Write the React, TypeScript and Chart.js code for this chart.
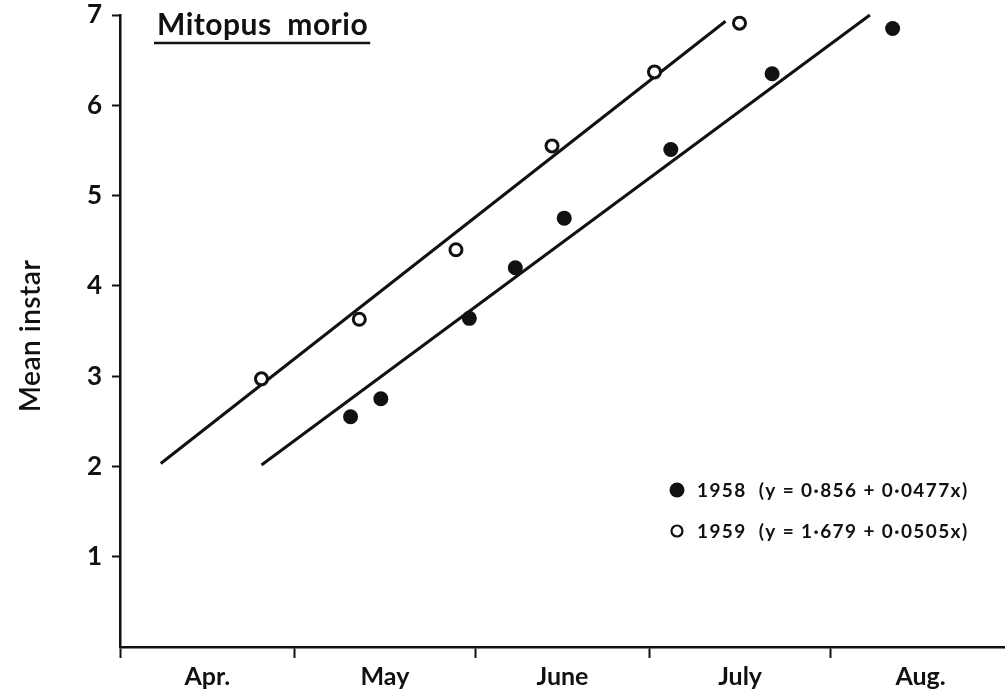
import React, { useEffect, useRef } from "react";
import { Chart, registerables } from "chart.js";

Chart.register(...registerables);

// Days are counted from 1 April.
const monthNames = ["Apr.", "May", "June", "July", "Aug."];
const monthStarts = [0, 30, 61, 91, 122, 153];
const yTicks = [0, 1, 2, 3, 4, 5, 6, 7];

// Mean instar of Mitopus morio, 1958 (filled) and 1959 (open)
const days1958 = [39.6, 44.8, 60.0, 67.9, 76.3, 94.6, 112.0, 132.7];
const instar1958 = [2.55, 2.75, 3.64, 4.2, 4.75, 5.51, 6.35, 6.85];
const days1959 = [24.3, 41.1, 57.7, 74.2, 91.8, 106.4];
const instar1959 = [2.97, 3.63, 4.4, 5.55, 6.37, 6.91];

// Fitted regressions y = a + b·x and the span over which each is drawn
const fit1958 = { a: 0.856, b: 0.0477, from: 24.3, to: 128.8 };
const fit1959 = { a: 1.679, b: 0.0505, from: 7, to: 104 };

const legendLines = ["1958  (y = 0·856 + 0·0477x)", "1959  (y = 1·679 + 0·0505x)"];

const INK = "#111";
const FONT = "Lato, 'DejaVu Sans', sans-serif";

const monthMids = monthNames.map((_, i) => (monthStarts[i] + monthStarts[i + 1]) / 2);

const fitLine = (f: { a: number; b: number; from: number; to: number }) => [
  { x: f.from, y: f.a + f.b * f.from },
  { x: f.to, y: f.a + f.b * f.to },
];

const annotations = {
  id: "annotations",
  afterDraw(chart: any) {
    const ctx = chart.ctx as any;
    ctx.save();
    ctx.fillStyle = INK;
    ctx.strokeStyle = INK;

    // species name, underlined
    ctx.font = `bold 30px ${FONT}`;
    ctx.letterSpacing = "0.5px";
    ctx.textBaseline = "alphabetic";
    ctx.textAlign = "left";
    const title = "Mitopus  morio";
    ctx.fillText(title, 157, 35);
    const w = ctx.measureText(title).width;
    ctx.lineWidth = 2.5;
    ctx.beginPath();
    ctx.moveTo(154, 43);
    ctx.lineTo(157 + w + 2, 43);
    ctx.stroke();

    // y axis title
    ctx.save();
    ctx.translate(31, 336);
    ctx.rotate(-Math.PI / 2);
    ctx.textAlign = "center";
    ctx.textBaseline = "middle";
    ctx.font = `600 28px ${FONT}`;
    ctx.letterSpacing = "0.5px";
    ctx.fillText("Mean instar", 0, 0);
    ctx.restore();

    // key
    ctx.font = `bold 19px ${FONT}`;
    ctx.letterSpacing = "1.4px";
    ctx.textAlign = "left";
    ctx.textBaseline = "middle";
    ctx.beginPath();
    ctx.arc(677, 490, 7.5, 0, Math.PI * 2);
    ctx.fill();
    ctx.fillText(legendLines[0], 697, 491);
    ctx.lineWidth = 2.2;
    ctx.beginPath();
    ctx.arc(677, 531, 5.5, 0, Math.PI * 2);
    ctx.stroke();
    ctx.fillText(legendLines[1], 697, 532);
    ctx.restore();
  },
};

export default function App() {
  const ref = useRef<HTMLCanvasElement | null>(null);

  useEffect(() => {
    if (!ref.current) return;
    const chart = new Chart(ref.current, {
      type: "scatter",
      data: {
        datasets: [
          {
            label: "1958",
            data: days1958.map((d, i) => ({ x: d, y: instar1958[i] })),
            pointRadius: 7.5,
            pointBackgroundColor: INK,
            pointBorderColor: INK,
            pointBorderWidth: 0,
            clip: false as any,
            order: 0,
          },
          {
            label: "1959",
            data: days1959.map((d, i) => ({ x: d, y: instar1959[i] })),
            pointRadius: 6,
            pointBackgroundColor: "#fff",
            pointBorderColor: INK,
            pointBorderWidth: 3,
            clip: false as any,
            order: 0,
          },
          {
            label: "fit 1958",
            data: fitLine(fit1958),
            showLine: true,
            borderColor: INK,
            borderWidth: 3,
            pointRadius: 0,
            clip: false as any,
            order: 1,
          },
          {
            label: "fit 1959",
            data: fitLine(fit1959),
            showLine: true,
            borderColor: INK,
            borderWidth: 3,
            pointRadius: 0,
            clip: false as any,
            order: 1,
          },
        ],
      },
      options: {
        animation: false,
        responsive: false,
        layout: { autoPadding: false, padding: { left: 0, right: 0, top: 15, bottom: 0 } },
        plugins: { legend: { display: false }, tooltip: { enabled: false } },
        scales: {
          x: {
            type: "linear",
            min: 0,
            max: 152,
            afterBuildTicks: (scale: any) => {
              const vals = [...monthStarts.slice(0, 5), ...monthMids].sort((a, b) => a - b);
              scale.ticks = vals.map((v) => ({ value: v }));
            },
            afterFit: (scale: any) => {
              scale.height = 51;
              scale.paddingLeft = 0;
              scale.paddingRight = 0;
            },
            ticks: {
              autoSkip: false,
              maxRotation: 0,
              padding: 4,
              color: INK,
              font: { family: FONT, size: 25, weight: "bold" },
              callback: (v: any) => {
                const i = monthMids.indexOf(Number(v));
                return i >= 0 ? monthNames[i] : "";
              },
            },
            grid: {
              drawOnChartArea: false,
              tickLength: 11,
              tickWidth: 2,
              tickColor: (ctx: any) =>
                monthStarts.includes(ctx.tick?.value) ? INK : "rgba(0,0,0,0)",
            },
            border: { color: INK, width: 2.5 },
          },
          y: {
            type: "linear",
            min: 0,
            max: 7,
            afterBuildTicks: (scale: any) => {
              scale.ticks = yTicks.map((v) => ({ value: v }));
            },
            afterFit: (scale: any) => {
              scale.width = 120;
              scale.paddingTop = 0;
              scale.paddingBottom = 0;
            },
            ticks: {
              padding: 10,
              color: INK,
              font: { family: FONT, size: 26, weight: "bold" },
              callback: (v: any) => (Number(v) === 0 ? "" : String(v)),
            },
            grid: {
              drawOnChartArea: false,
              tickLength: 8,
              tickWidth: 2,
              tickColor: (ctx: any) => (ctx.tick?.value === 0 ? "rgba(0,0,0,0)" : INK),
            },
            border: { color: INK, width: 2.5 },
          },
        },
      },
      plugins: [annotations],
    });
    return () => chart.destroy();
  }, []);

  return (
    <div style={{ position: "fixed", left: 0, top: 0, width: 1005, height: 698, background: "#fff" }}>
      <canvas ref={ref} width={1005} height={698} style={{ display: "block" }} />
    </div>
  );
}
